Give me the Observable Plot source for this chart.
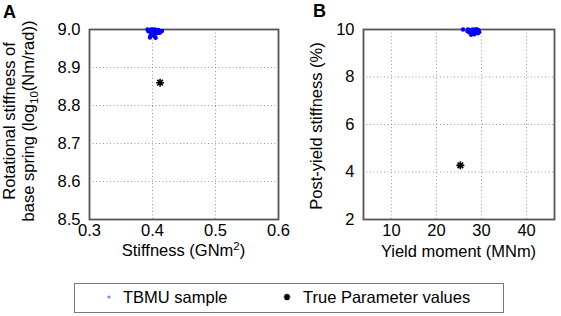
<!DOCTYPE html>
<html><head><meta charset="utf-8">
<script src="https://cdn.jsdelivr.net/npm/d3@7"></script>
<script src="https://cdn.jsdelivr.net/npm/@observablehq/plot@0.6"></script>
<style>
html,body{margin:0;padding:0;background:#fff;}
#root{position:relative;width:561px;height:316px;overflow:hidden;font-family:"Liberation Sans",Arial,sans-serif;}
#root svg{position:absolute;overflow:visible;}
</style></head><body><div id="root"></div>
<script>
// Panel A: TBMU samples (stiffness GNm^2 vs log10 rotational stiffness)
const sampleStiffness = [0.392,0.395,0.398,0.400,0.402,0.404,0.406,0.408,0.410,0.413,0.399,0.401,0.397,0.403,0.396,0.405,0.401,0.394,0.407,0.400,0.404,0.409,0.411,0.398,0.393,0.415];
const sampleRotational = [9.000,8.998,9.000,8.996,8.999,8.994,8.997,8.993,8.995,8.994,8.990,8.987,8.984,8.982,8.979,8.978,8.992,8.995,8.990,9.000,9.000,8.999,8.991,8.993,8.997,8.996];
// Panel B: TBMU samples (yield moment MNm vs post-yield stiffness %)
const sampleYieldMoment = [25.9,27.0,27.4,27.8,28.2,28.6,29.0,29.3,27.5,28.0,28.4,28.8,29.2,27.2,28.1,28.9,27.7,28.5,29.5,26.9,27.9,28.3,28.7,29.1];
const samplePostYield = [10.00,10.00,9.95,9.98,9.90,9.95,9.92,9.97,9.85,9.82,9.80,9.86,9.84,9.90,10.00,10.00,9.78,9.88,9.90,9.93,9.93,9.97,10.00,9.99];
// True parameter values
const trueStiffness = [0.412];
const trueRotational = [8.86];
const trueYieldMoment = [25.3];
const truePostYield = [4.28];
// Ticks
const ticksStiffness = [0.3,0.4,0.5,0.6];
const ticksRotational = [8.5,8.6,8.7,8.8,8.9,9.0];
const ticksYieldMoment = [10,20,30,40];
const ticksPostYield = [2,4,6,8,10];
const legendLabels = ["TBMU sample","True Parameter values"];

const FONT = '"Liberation Sans", Arial, sans-serif';
const star8 = {draw(ctx, size){
  const r = Math.sqrt(size/Math.PI);
  for (let i=0;i<4;i++){const a=i*Math.PI/4;const dx=r*Math.cos(a),dy=r*Math.sin(a);ctx.moveTo(-dx,-dy);ctx.lineTo(dx,dy);}
}};
const gridStyle = {stroke:"#9a9a9a", strokeOpacity:1, strokeDasharray:"1,2.5", strokeWidth:1};

function panel(opts){
  const {width, marginLeft, marginRight, xDomain, yDomain, xTicks, yTicks, yFormat, sx, sy, tx, ty} = opts;
  const idx = d3.range(sx.length);
  return Plot.plot({
    width, height:270, marginLeft, marginRight, marginTop:29, marginBottom:51,
    style:{fontFamily:FONT, fontSize:"16px", color:"#000", background:"transparent", overflow:"visible"},
    x:{domain:xDomain, label:null},
    y:{domain:yDomain, label:null},
    marks:[
      Plot.gridX(xTicks, gridStyle),
      Plot.gridY(yTicks, gridStyle),
      Plot.frame({stroke:"#555", strokeWidth:1.8}),
      Plot.axisX(xTicks, {tickSize:0, tickPadding:5, fontSize:16.5, label:null}),
      Plot.axisY(yTicks, {tickSize:0, tickPadding:9, fontSize:16.5, label:null, tickFormat:yFormat}),
      Plot.dot(idx, {x:i=>sx[i], y:i=>sy[i], r:2.2, fill:"#0000ff", stroke:"none"}),
      Plot.dot(d3.range(tx.length), {x:i=>tx[i], y:i=>ty[i], r:4, symbol:star8, stroke:"#000", strokeWidth:1.6, fill:"none"})
    ]
  });
}

const root = d3.select("#root");

const A = panel({width:280, marginLeft:89, marginRight:2, xDomain:[0.3,0.6], yDomain:[8.5,9.0],
  xTicks:ticksStiffness, yTicks:ticksRotational, yFormat:d3.format(".1f"),
  sx:sampleStiffness, sy:sampleRotational, tx:trueStiffness, ty:trueRotational});
A.style.left="0px"; A.style.top="0px";
root.node().appendChild(A);
const sA = d3.select(A);
sA.append("text").attr("x",3).attr("y",18).attr("text-anchor","start").attr("font-size",18).attr("font-weight","bold").attr("font-family",FONT).text("A");
sA.append("text").attr("transform","translate(15,121) rotate(-90)").attr("text-anchor","middle").attr("font-size",16.5).attr("font-family",FONT).text("Rotational stiffness of");
const l2 = sA.append("text").attr("transform","translate(34,121) rotate(-90)").attr("text-anchor","middle").attr("font-size",16.5).attr("font-family",FONT);
l2.append("tspan").text("base spring (log");
l2.append("tspan").attr("font-size",11.5).attr("dy",4).text("10");
l2.append("tspan").attr("dy",-4).text("(Nm/rad))");
const xa = sA.append("text").attr("x",183.5).attr("y",256).attr("text-anchor","middle").attr("font-size",16.5).attr("font-family",FONT);
xa.append("tspan").text("Stiffness (GNm");
xa.append("tspan").attr("font-size",11.5).attr("dy",-6).text("2");
xa.append("tspan").attr("dy",6).text(")");

const B = panel({width:281, marginLeft:83, marginRight:7, xDomain:[3.8,46.2], yDomain:[2,10],
  xTicks:ticksYieldMoment, yTicks:ticksPostYield, yFormat:d3.format("d"),
  sx:sampleYieldMoment, sy:samplePostYield, tx:trueYieldMoment, ty:truePostYield});
B.style.left="280px"; B.style.top="0px";
root.node().appendChild(B);
const sB = d3.select(B);
sB.append("text").attr("x",33).attr("y",17).attr("text-anchor","start").attr("font-size",18).attr("font-weight","bold").attr("font-family",FONT).text("B");
sB.append("text").attr("transform","translate(42,126) rotate(-90)").attr("text-anchor","middle").attr("font-size",16.5).attr("font-family",FONT).text("Post-yield stiffness (%)");
sB.append("text").attr("x",178.5).attr("y",257).attr("text-anchor","middle").attr("font-size",16.5).attr("font-family",FONT).text("Yield moment (MNm)");

// Legend
const leg = root.append("svg").attr("width",561).attr("height",316).style("left","0px").style("top","0px");
leg.append("rect").attr("x",74.5).attr("y",283.5).attr("width",429).attr("height",29).attr("fill","#fff").attr("stroke","#7a7a7a").attr("stroke-width",1);
leg.append("circle").attr("cx",109).attr("cy",297).attr("r",1.6).attr("fill","#7f7fff");
leg.append("text").attr("x",123).attr("y",303).attr("font-size",16.5).attr("font-family",FONT).text(legendLabels[0]);
leg.append("path").attr("transform","translate(287,297)").attr("d",d3.symbol(star8, Math.PI*3.3*3.3)()).attr("stroke","#000").attr("stroke-width",1.6).attr("fill","none");
leg.append("text").attr("x",303).attr("y",303).attr("font-size",16.5).attr("font-family",FONT).text(legendLabels[1]);
</script></body></html>
